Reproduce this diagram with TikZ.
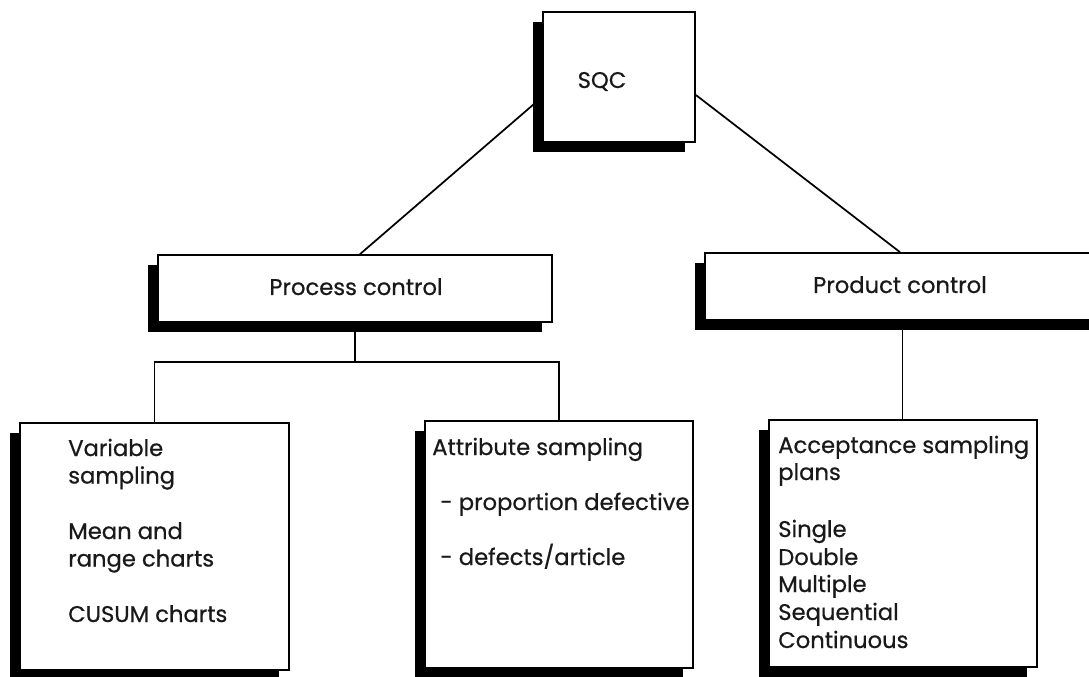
\documentclass[tikz,border=0pt]{standalone}
\usepackage{fontspec}
\setmainfont{Poppins}[FakeBold=0.6]
\usetikzlibrary{shadows}
\pgfdeclarelayer{bg}
\pgfsetlayers{bg,main}
\begin{document}
\begin{tikzpicture}[x=0.75pt,y=-0.75pt,
  box/.style={draw=black, line width=1.3pt, fill=white, inner sep=0pt,
    general shadow={fill=black, shadow xshift=-7.5pt, shadow yshift=-7.5pt}},
  link/.style={draw=black, line width=1.3pt},
  lbl/.style={inner sep=0pt, text=black!90, font=\fontsize{17}{20}\selectfont}
]
\useasboundingbox (0,0) rectangle (1089,677);
\clip (0,0) rectangle (1089,677);

% boxes
\node[box, minimum width=114pt,    minimum height=97.5pt]  (sqc)  at (619,77)    {};
\node[box, minimum width=295.5pt,  minimum height=50.25pt] (proc) at (355,288.5) {};
\node[box, minimum width=296.25pt, minimum height=50.25pt] (prod) at (902.5,286.5) {};
\node[box, minimum width=201.75pt, minimum height=185.25pt] (var)  at (154.5,546.5) {};
\node[box, minimum width=201pt,    minimum height=185.25pt] (attr) at (559,544.5) {};
\node[box, minimum width=201pt,    minimum height=185.25pt] (acc)  at (903,543.5) {};

% connectors
\coordinate (split) at (357,362);
\begin{pgfonlayer}{bg}
  \draw[link] ([yshift=-15pt]sqc.west) -- ([xshift=3.75pt]proc.north);
  \draw[link] ([yshift=-13.5pt]sqc.east) -- ([xshift=-1.9pt]prod.north);
  \draw[link] (proc.south) -- (proc.south |- split);
  \draw[link] (var.north) |- (split) -| (attr.north);
  \draw[link] (prod.south) -- (prod.south |- acc.north);
\end{pgfonlayer}

% headings
\node[lbl, anchor=base] (tsqc)  at (602,88)  {SQC};
\node[lbl, anchor=base] (tproc) at (356,295) {Process control};
\node[lbl, anchor=base] (tprod) at (900,293) {Product control};

% variable sampling box
\node[lbl, anchor=base west] (v1) at (68,456)   {Variable};
\node[lbl, anchor=base west] (v2) at (68,483.5) {sampling};
\node[lbl, anchor=base west] (v3) at (68,539)   {Mean and};
\node[lbl, anchor=base west] (v4) at (68,566.5) {range charts};
\node[lbl, anchor=base west] (v5) at (68,622)   {CUSUM charts};

% attribute sampling box
\node[lbl, anchor=base west] (a1) at (432,455) {Attribute sampling};
\node[lbl, anchor=base west] (a2) at (440,510) {- proportion defective};
\node[lbl, anchor=base west] (a3) at (440,565) {- defects/article};

% acceptance sampling box
\node[lbl, anchor=base west] (p1) at (778,453) {Acceptance sampling};
\node[lbl, anchor=base west] (p2) at (778,480) {plans};
\node[lbl, anchor=base west] (p3) at (778,537) {Single};
\node[lbl, anchor=base west] (p4) at (778,565) {Double};
\node[lbl, anchor=base west] (p5) at (778,592) {Multiple};
\node[lbl, anchor=base west] (p6) at (778,620) {Sequential};
\node[lbl, anchor=base west] (p7) at (778,648) {Continuous};
\end{tikzpicture}
\end{document}
